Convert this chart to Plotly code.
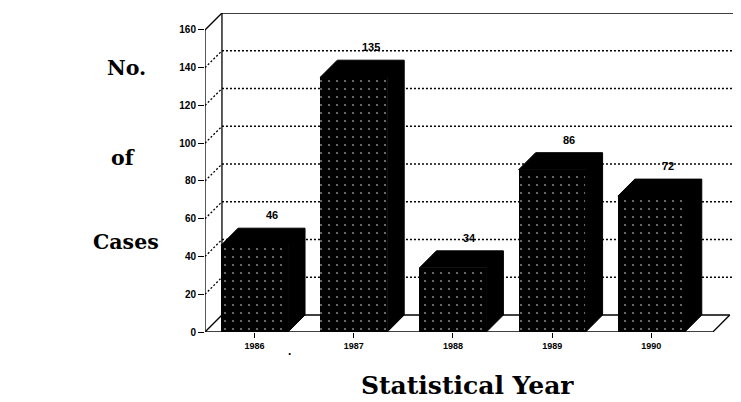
import plotly.graph_objects as go

# ---- data ----
years = ["1986", "1987", "1988", "1989", "1990"]
cases = [46, 135, 34, 86, 72]
y_ticks = [0, 20, 40, 60, 80, 100, 120, 140, 160]

# ---- 3D geometry (data units) ----
bar_w = 0.675
dx = 0.171          # depth offset along x (category units)
dy = 9.0            # depth offset along y (value units)
x_lo, x_hi = -0.5, 4.904
y_hi = 169
floor_end = 4.62

xs = list(range(len(years)))

fig = go.Figure()

# front faces of the bars (dotted pattern)
fig.add_trace(go.Bar(
    x=xs, y=cases, width=bar_w,
    marker=dict(color="black", line=dict(width=0),
                pattern=dict(shape=".", fgcolor="white", bgcolor="black",
                             size=8, solidity=0.06)),
    hoverinfo="skip", showlegend=False,
))

# top + side faces of each bar
px, py = [], []
for i, v in zip(xs, cases):
    x0, x1 = i - bar_w / 2, i + bar_w / 2
    px += [x0, x0 + dx, x1 + dx, x1 + dx, x1, x1, x0, None]
    py += [v, v + dy, v + dy, dy, 0, v, v, None]
fig.add_trace(go.Scatter(
    x=px, y=py, mode="lines", fill="toself", fillcolor="black",
    line=dict(color="black", width=1), hoverinfo="skip", showlegend=False,
))

shapes = []
dot = dict(color="black", width=1.3, dash="2px,2px")
solid = dict(color="black", width=1.3)
for t in y_ticks[1:-1]:
    shapes.append(dict(type="line", xref="x", yref="y", layer="below",
                       x0=x_lo, y0=t, x1=x_lo + dx, y1=t + dy, line=dot))
    shapes.append(dict(type="line", xref="x", yref="y", layer="below",
                       x0=x_lo + dx, y0=t + dy, x1=x_hi, y1=t + dy, line=dot))
top = y_ticks[-1]
# top of walls
shapes.append(dict(type="line", xref="x", yref="y", layer="below",
                   x0=x_lo, y0=top, x1=x_lo + dx, y1=top + dy, line=solid))
shapes.append(dict(type="line", xref="x", yref="y", layer="below",
                   x0=x_lo + dx, y0=top + dy, x1=x_hi, y1=top + dy, line=solid))
# back wall left edge
shapes.append(dict(type="line", xref="x", yref="y", layer="below",
                   x0=x_lo + dx, y0=dy, x1=x_lo + dx, y1=top + dy, line=solid))
# front value axis
shapes.append(dict(type="line", xref="x", yref="y", layer="below",
                   x0=x_lo, y0=0, x1=x_lo, y1=top, line=solid))
# floor
shapes.append(dict(type="line", xref="x", yref="y", layer="below",
                   x0=x_lo, y0=0, x1=floor_end, y1=0, line=solid))
shapes.append(dict(type="line", xref="x", yref="y", layer="below",
                   x0=x_lo + dx, y0=dy, x1=floor_end + dx, y1=dy, line=solid))
shapes.append(dict(type="line", xref="x", yref="y", layer="below",
                   x0=x_lo, y0=0, x1=x_lo + dx, y1=dy, line=solid))
shapes.append(dict(type="line", xref="x", yref="y", layer="below",
                   x0=floor_end, y0=0, x1=floor_end + dx, y1=dy, line=solid))

label_font = dict(family="Liberation Sans, Arial", size=11, color="black", weight="bold")
annotations = []
# value labels above each bar's back top edge
for i, v in zip(xs, cases):
    annotations.append(dict(text=str(v), x=i + dx, y=v + dy, xref="x", yref="y",
                            xanchor="center", yanchor="middle", yshift=13,
                            showarrow=False, font=label_font))

title_font = dict(family="DejaVu Serif", size=20.5, color="black", weight="bold")
for txt, xp, yp in [("No.", -0.147, 0.828), ("of", -0.153, 0.545), ("Cases", -0.147, 0.282)]:
    annotations.append(dict(text=txt, x=xp, y=yp, xref="paper", yref="paper",
                            xanchor="center", yanchor="middle",
                            showarrow=False, font=title_font))
annotations.append(dict(text="Statistical Year", x=0.49, y=-0.167, xref="paper", yref="paper",
                        xanchor="center", yanchor="middle", showarrow=False,
                        font=dict(family="DejaVu Serif", size=25, color="black", weight="bold")))
annotations.append(dict(text=".", x=0.158, y=-0.06, xref="paper", yref="paper",
                        xanchor="center", yanchor="middle", showarrow=False,
                        font=dict(family="Liberation Sans", size=12, color="black", weight="bold")))

fig.update_layout(
    width=741, height=402,
    margin=dict(l=197, r=8, t=5, b=78),
    paper_bgcolor="white", plot_bgcolor="white",
    shapes=shapes, annotations=annotations,
    bargap=0,
    xaxis=dict(range=[x_lo, x_hi], tickvals=xs, ticktext=years,
               showgrid=False, zeroline=False, showline=False,
               ticks="outside", ticklen=5, tickwidth=1, tickcolor="black",
               tickfont=dict(family="Liberation Sans, Arial", size=9, color="black", weight="bold")),
    yaxis=dict(range=[0, y_hi], tickvals=y_ticks,
               showgrid=False, zeroline=False, showline=False,
               ticks="outside", ticklen=6, tickwidth=1.3, tickcolor="black",
               tickfont=dict(family="Liberation Sans, Arial", size=10, color="black", weight="bold")),
)

fig.write_html("out.html")
